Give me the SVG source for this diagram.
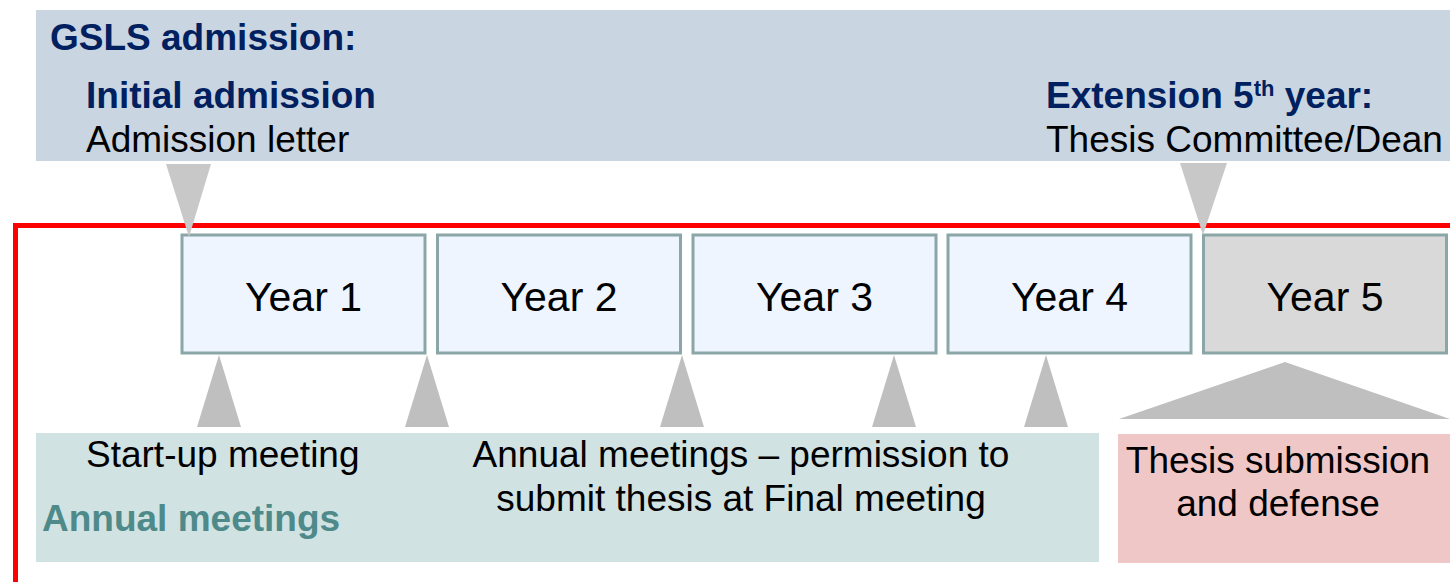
<svg xmlns="http://www.w3.org/2000/svg" width="1450" height="582" viewBox="0 0 1450 582">
<style>
text{font-family:"Liberation Sans",Arial,sans-serif;font-size:37px;fill:#000}
.hd{font-weight:bold;fill:#002060}
.yr{fill:#eef5fe;stroke:#8aa6a6;stroke-width:3}
.yl{font-size:41px;text-anchor:middle}
.tri{fill:#bfbfbf}
.tri2{fill:#c8c8c8}
</style>
<rect width="1450" height="582" fill="#fff"/>
<g id="gsls">
<rect x="36" y="10" width="1420" height="151" fill="#c9d5e1"/>
<text x="50" y="50" class="hd">GSLS admission:</text>
<text x="86" y="108" class="hd">Initial admission</text>
<text x="86" y="152">Admission letter</text>
<text x="1046" y="108" class="hd">Extension 5<tspan font-size="22" dy="-12">th</tspan><tspan dy="12"> year:</tspan></text>
<text x="1046" y="152">Thesis Committee/Dean</text>
</g>
<g id="frame">
<rect x="15.5" y="225.5" width="1460" height="400" fill="none" stroke="#ff0000" stroke-width="5"/>
</g>
<g id="meetings">
<rect x="36" y="433" width="1063" height="129" fill="#d1e2e2"/>
<text x="86" y="467">Start-up meeting</text>
<text x="42" y="531" font-weight="bold" style="fill:#4e8a8a">Annual meetings</text>
<text x="741" y="467" text-anchor="middle">Annual meetings – permission to</text>
<text x="741" y="511" text-anchor="middle">submit thesis at Final meeting</text>
</g>
<g id="thesis">
<rect x="1118" y="434" width="340" height="129" fill="#f0c7c7"/>
<text x="1278" y="473" text-anchor="middle">Thesis submission</text>
<text x="1278" y="516" text-anchor="middle">and defense</text>
</g>
<g id="year1"><rect class="yr" x="182" y="235" width="243" height="118"/><text class="yl" x="303.5" y="311">Year 1</text></g>
<g id="year2"><rect class="yr" x="437.5" y="235" width="243" height="118"/><text class="yl" x="559" y="311">Year 2</text></g>
<g id="year3"><rect class="yr" x="693" y="235" width="243" height="118"/><text class="yl" x="814.5" y="311">Year 3</text></g>
<g id="year4"><rect class="yr" x="948" y="235" width="243" height="118"/><text class="yl" x="1069.5" y="311">Year 4</text></g>
<g id="year5"><rect class="yr" x="1203.5" y="235" width="243" height="118" style="fill:#d9d9d9"/><text class="yl" x="1325" y="311">Year 5</text></g>
<g id="connectors">
<polygon class="tri2" points="166,164 211,164 189,237"/>
<polygon class="tri2" points="1180,163 1227,163 1203,235"/>
<polygon class="tri" points="219,355 197,427 241,427"/>
<polygon class="tri" points="427,355 405,427 449,427"/>
<polygon class="tri" points="682,355 660,427 704,427"/>
<polygon class="tri" points="894,355 872,427 916,427"/>
<polygon class="tri" points="1046,355 1024,427 1068,427"/>
<polygon class="tri" points="1285,362 1119,419 1450,419"/>
</g>
</svg>
